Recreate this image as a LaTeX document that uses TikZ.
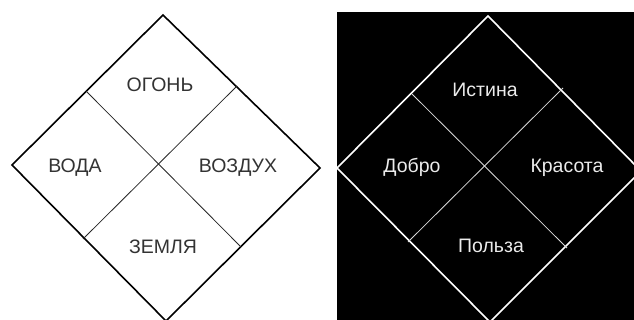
\documentclass[tikz,border=0pt]{standalone}
\usepackage{fontspec}
\setmainfont{Liberation Sans}
\begin{document}
\begin{tikzpicture}[x=1pt,y=-1pt,
  outerline/.style={line width=1.6pt,line join=miter},
  innerline/.style={line width=0.8pt},
  label/.style={font=\fontsize{19.5}{22}\selectfont,inner sep=0pt}]
\useasboundingbox (0,0) rectangle (634,320);
\clip (0,0) rectangle (634,320);
\fill[white] (0,0) rectangle (634,320);
% right black panel
\fill[black] (337,12) rectangle (634,320);
% ---------- left diamond ----------
\coordinate (lT) at (163,15);
\coordinate (lL) at (12,165);
\coordinate (lR) at (320,168);
\coordinate (lB) at (166,321);
\coordinate (lA1) at (86,91);
\coordinate (lA2) at (241,247);
\coordinate (lB1) at (237,86);
\coordinate (lB2) at (83,239);
\draw[outerline,black] (lT) -- (lR) -- (lB) -- (lL) -- cycle;
\draw[innerline,black!85] (lA1) -- (lA2);
\draw[innerline,black!85] (lB1) -- (lB2);
\node[label,text=black!80] (fire) at (160,85) {ОГОНЬ};
\node[label,text=black!80] (water) at (75,168) {ВОДА};
\node[label,text=black!80] (air) at (238,168) {ВОЗДУХ};
\node[label,text=black!80] (earth) at (163,247) {ЗЕМЛЯ};
% ---------- right diamond ----------
\coordinate (rT) at (488,16);
\coordinate (rL) at (337,168);
\coordinate (rR) at (641,171);
\coordinate (rB) at (490,322);
\coordinate (rA1) at (412,94);
\coordinate (rA2) at (567,248);
\coordinate (rB1) at (563,88);
\coordinate (rB2) at (408,242);
\draw[outerline,white] (rT) -- (rR) -- (rB) -- (rL) -- cycle;
\draw[innerline,white!85!black] (rA1) -- (rA2);
\draw[innerline,white!85!black] (rB1) -- (rB2);
\node[label,text=white!92!black] (truth) at (485,90) {Истина};
\node[label,text=white!92!black] (good) at (412,167) {Добро};
\node[label,text=white!92!black] (beauty) at (567,168) {Красота};
\node[label,text=white!92!black] (use) at (491,246) {Польза};
\end{tikzpicture}
\end{document}
